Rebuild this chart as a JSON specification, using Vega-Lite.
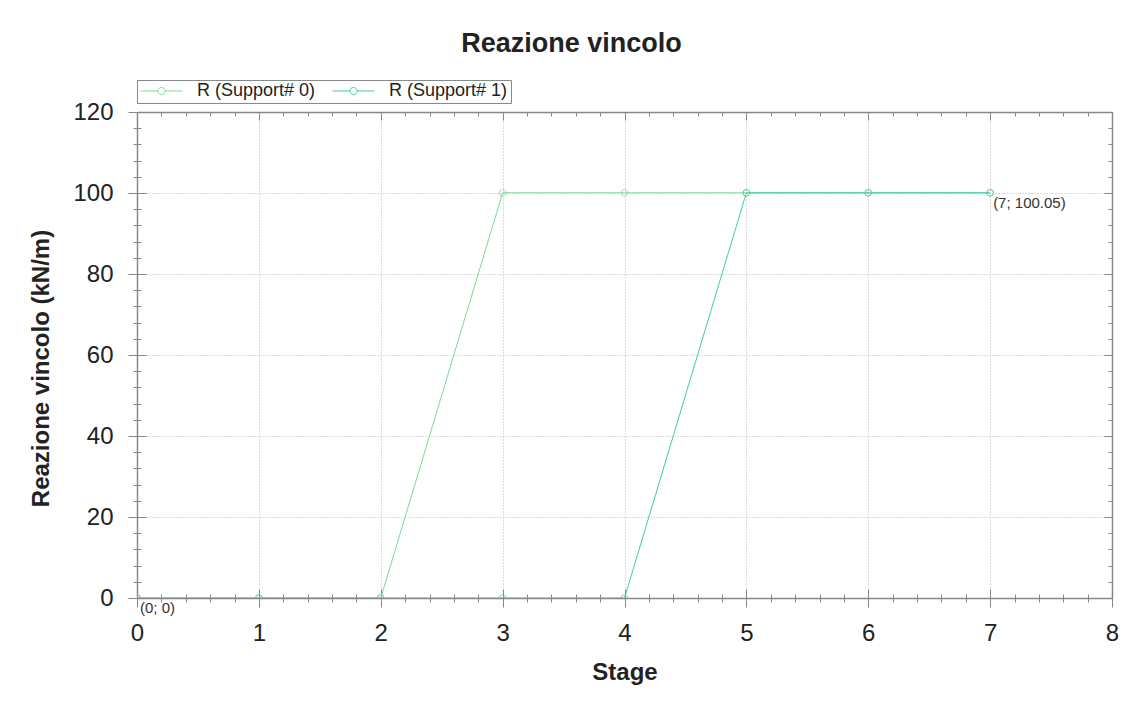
{
  "$schema": "https://vega.github.io/schema/vega-lite/v6.json",
  "width": 975,
  "height": 486,
  "autosize": {"type": "none"},
  "padding": {"left": 137, "top": 112, "right": 23, "bottom": 104},
  "background": "white",
  "title": {
    "text": "Reazione vincolo",
    "font": "Liberation Sans",
    "fontSize": 27,
    "fontWeight": "bold",
    "color": "#222222",
    "anchor": "middle",
    "dx": -53,
    "offset": 22
  },
  "datasets": {
    "series": [
      {"stage": 0, "value": 0, "serie": "R (Support# 0)"},
      {"stage": 1, "value": 0, "serie": "R (Support# 0)"},
      {"stage": 2, "value": 0, "serie": "R (Support# 0)"},
      {"stage": 3, "value": 100.05, "serie": "R (Support# 0)"},
      {"stage": 4, "value": 100.05, "serie": "R (Support# 0)"},
      {"stage": 5, "value": 100.05, "serie": "R (Support# 0)"},
      {"stage": 6, "value": 100.05, "serie": "R (Support# 0)"},
      {"stage": 7, "value": 100.05, "serie": "R (Support# 0)"},
      {"stage": 0, "value": 0, "serie": "R (Support# 1)"},
      {"stage": 1, "value": 0, "serie": "R (Support# 1)"},
      {"stage": 2, "value": 0, "serie": "R (Support# 1)"},
      {"stage": 3, "value": 0, "serie": "R (Support# 1)"},
      {"stage": 4, "value": 0, "serie": "R (Support# 1)"},
      {"stage": 5, "value": 100.05, "serie": "R (Support# 1)"},
      {"stage": 6, "value": 100.05, "serie": "R (Support# 1)"},
      {"stage": 7, "value": 100.05, "serie": "R (Support# 1)"}
    ],
    "labels": [
      {"stage": 0, "value": 0, "text": "(0; 0)"},
      {"stage": 7, "value": 100.05, "text": "(7; 100.05)"}
    ]
  },
  "resolve": {"axis": {"x": "independent", "y": "independent"}},
  "layer": [
    {
      "data": {"name": "series"},
      "mark": {"type": "line", "strokeWidth": 1, "clip": true},
      "encoding": {
        "x": {
          "field": "stage", "type": "quantitative",
          "scale": {"domain": [0, 8], "nice": false, "zero": false},
          "axis": {
            "orient": "bottom", "title": "Stage", "values": [0,1,2,3,4,5,6,7,8],
            "ticks": false, "tickSize": 0, "domain": true, "grid": true,
            "labelPadding": 23, "titlePadding": 15
          }
        },
        "y": {
          "field": "value", "type": "quantitative",
          "scale": {"domain": [0, 120], "nice": false},
          "axis": {
            "orient": "left", "title": "Reazione vincolo (kN/m)", "values": [0,20,40,60,80,100,120],
            "ticks": false, "tickSize": 0, "domain": true, "grid": true,
            "labelPadding": 24, "titlePadding": 19, "titleY": 256
          }
        },
        "color": {
          "field": "serie", "type": "nominal",
          "scale": {"domain": ["R (Support# 0)", "R (Support# 1)"], "range": ["#79DB96", "#3FCFA6"]},
          "legend": {
            "orient": "none", "legendX": 0, "legendY": -32, "direction": "horizontal",
            "title": null, "strokeColor": "#888888", "fillColor": "white", "padding": 3,
            "symbolType": "M-1,0H-0.17M0.17,0H1M0.17,0A0.17,0.17,0,1,1,-0.17,0A0.17,0.17,0,1,1,0.17,0",
            "symbolSize": 1764, "symbolStrokeWidth": 1, "symbolFillColor": "transparent",
            "clipHeight": 16,
            "labelFont": "Liberation Sans", "labelFontSize": 18, "labelColor": "#222222",
            "labelOffset": 14, "columnPadding": 16
          }
        }
      }
    },
    {
      "data": {"name": "series"},
      "mark": {"type": "point", "shape": "circle", "filled": false, "size": 45, "strokeWidth": 1, "clip": true},
      "encoding": {
        "x": {
          "field": "stage", "type": "quantitative",
          "axis": {"orient": "bottom", "title": null, "values": [0,1,2,3,4,5,6,7,8], "labels": false, "domain": false, "grid": false, "offset": -9, "tickSize": 18}
        },
        "y": {
          "field": "value", "type": "quantitative",
          "axis": {"orient": "left", "title": null, "values": [0,20,40,60,80,100,120], "labels": false, "domain": false, "grid": false, "offset": -9, "tickSize": 18}
        },
        "color": {"field": "serie", "type": "nominal", "legend": null}
      }
    },
    {
      "data": {"name": "labels"},
      "mark": {"type": "text", "align": "left", "baseline": "top", "dx": 3, "dy": 3, "font": "Liberation Sans", "fontSize": 15, "color": "#333333"},
      "encoding": {
        "x": {
          "field": "stage", "type": "quantitative",
          "axis": {"orient": "bottom", "title": null, "values": [0.2,0.4,0.6,0.8,1.2,1.4,1.6,1.8,2.2,2.4,2.6,2.8,3.2,3.4,3.6,3.8,4.2,4.4,4.6,4.8,5.2,5.4,5.6,5.8,6.2,6.4,6.6,6.8,7.2,7.4,7.6,7.8], "labels": false, "domain": false, "grid": false, "offset": -4, "tickSize": 8}
        },
        "y": {
          "field": "value", "type": "quantitative",
          "axis": {"orient": "left", "title": null, "values": [4,8,12,16,24,28,32,36,44,48,52,56,64,68,72,76,84,88,92,96,104,108,112,116], "labels": false, "domain": false, "grid": false, "offset": -4, "tickSize": 8}
        },
        "text": {"field": "text", "type": "nominal"}
      }
    },
    {
      "data": {"name": "series"},
      "mark": {"type": "point", "opacity": 0},
      "encoding": {
        "x": {
          "field": "stage", "type": "quantitative",
          "axis": {"orient": "top", "title": null, "values": [0.2,0.4,0.6,0.8,1.2,1.4,1.6,1.8,2.2,2.4,2.6,2.8,3.2,3.4,3.6,3.8,4.2,4.4,4.6,4.8,5.2,5.4,5.6,5.8,6.2,6.4,6.6,6.8,7.2,7.4,7.6,7.8], "labels": false, "domain": true, "grid": false, "tickSize": -4}
        },
        "y": {
          "field": "value", "type": "quantitative",
          "axis": {"orient": "right", "title": null, "values": [4,8,12,16,24,28,32,36,44,48,52,56,64,68,72,76,84,88,92,96,104,108,112,116], "labels": false, "domain": true, "grid": false, "tickSize": -4}
        }
      }
    },
    {
      "data": {"name": "series"},
      "mark": {"type": "point", "opacity": 0},
      "encoding": {
        "x": {
          "field": "stage", "type": "quantitative",
          "axis": {"orient": "top", "title": null, "values": [0,1,2,3,4,5,6,7,8], "labels": false, "domain": false, "grid": false, "tickSize": -8}
        },
        "y": {
          "field": "value", "type": "quantitative",
          "axis": {"orient": "right", "title": null, "values": [0,20,40,60,80,100,120], "labels": false, "domain": false, "grid": false, "tickSize": -8}
        }
      }
    }
  ],
  "config": {
    "view": {"stroke": null},
    "axis": {
      "domainColor": "#888888",
      "domainWidth": 1.5,
      "tickColor": "#888888",
      "tickWidth": 1,
      "gridColor": "#b8b8b8",
      "gridDash": [1, 2],
      "gridWidth": 1,
      "labelFont": "Liberation Sans",
      "labelFontSize": 24,
      "labelColor": "#222222",
      "titleFont": "Liberation Sans",
      "titleFontSize": 24,
      "titleFontWeight": "bold",
      "titleColor": "#222222",
      "labelFlush": false,
      "labelOverlap": false
    }
  }
}
